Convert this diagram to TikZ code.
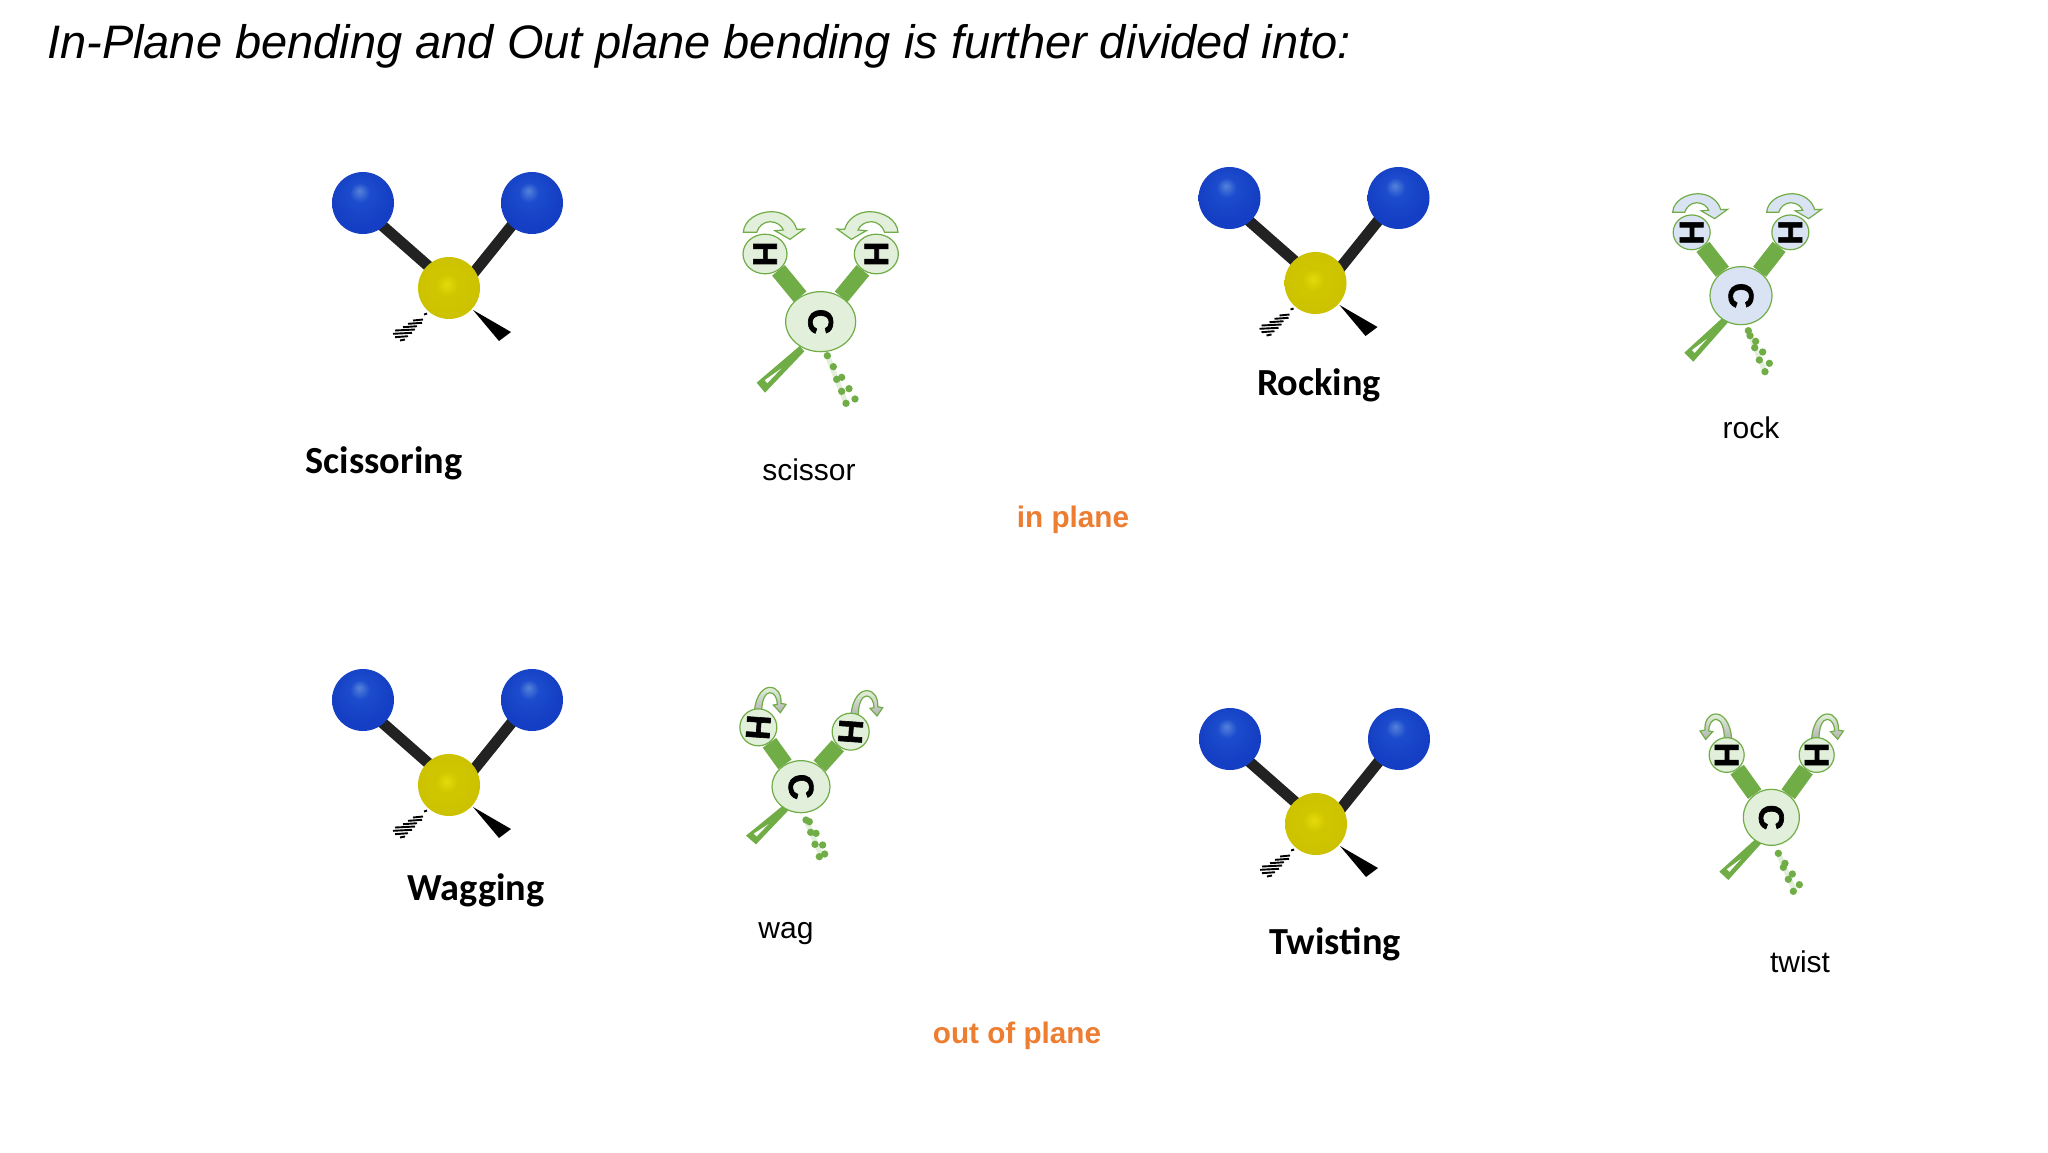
\documentclass[tikz,border=0pt]{standalone}
\usepackage{fontspec}
\usepackage{graphicx}
\setmainfont{Liberation Sans}
\newfontfamily\calfont{Carlito}
\newfontfamily\atomfont[BoldFeatures={FakeBold=1.8}]{Liberation Sans}
\usetikzlibrary{shapes.geometric,calc,backgrounds}
\definecolor{gr}{HTML}{70AD47}
\definecolor{lgr}{HTML}{E2EFDA}
\definecolor{lbl}{HTML}{DAE3F3}
\definecolor{orng}{HTML}{ED7D31}
\definecolor{bonddark}{HTML}{222222}
\pgfdeclareradialshading{bluesph}{\pgfpoint{-3bp}{10bp}}{
 color(0bp)=(rgb,255:red,85;green,130;blue,218);
 color(8bp)=(rgb,255:red,28;green,76;blue,205);
 color(25bp)=(rgb,255:red,20;green,62;blue,195);
 color(50bp)=(rgb,255:red,20;green,62;blue,195)}
\pgfdeclareradialshading{yelsph}{\pgfpoint{-2bp}{3bp}}{
 color(0bp)=(rgb,255:red,228;green,218;blue,10);
 color(9bp)=(rgb,255:red,208;green,198;blue,0);
 color(25bp)=(rgb,255:red,204;green,194;blue,0);
 color(50bp)=(rgb,255:red,204;green,194;blue,0)}
\tikzset{
 x=1pt,y=-1pt,
 bluea/.style={circle,minimum size=62pt,inner sep=0pt,shading=bluesph},
 yela/.style={circle,minimum size=62pt,inner sep=0pt,shading=yelsph},
 blackbond/.style={draw=bonddark,line width=11pt},
 greenbond/.style={draw=gr,line width=16.5pt},
 atomc/.style={ellipse,draw=gr,line width=1.2pt,inner sep=0pt,font=\atomfont\bfseries\fontsize{35}{35}\selectfont},
 atomh/.style={ellipse,draw=gr,line width=1.2pt,inner sep=0pt,font=\atomfont\bfseries\fontsize{34}{34}\selectfont},
 curl/.style={draw=gr,line width=1.2pt,line join=miter},
 titletxt/.style={font=\itshape\fontsize{47}{50}\selectfont,anchor=west,inner sep=0pt},
 namelbl/.style={font=\calfont\bfseries\fontsize{38.3}{42}\selectfont,inner sep=0pt},
 smalllbl/.style={font=\fontsize{30}{33}\selectfont,inner sep=0pt},
 planelbl/.style={font=\bfseries\fontsize{29.7}{32}\selectfont,text=orng,inner sep=0pt},
}
\newcommand{\ballmol}[3]{
 \begin{scope}[shift={(#2,#3)}]
  \node[yela] (#1y) at (0,0) {};
  \node[bluea] (#1l) at (-86,-85) {};
  \node[bluea] (#1r) at (83,-85) {};
  \begin{scope}[on background layer]
   \draw[blackbond] ($(#1y)+(-18,-19.5)$) -- ($(#1l)+(18,21.5)$);
   \draw[blackbond] ($(#1y)+(23,-13)$) -- ($(#1r)+(-19,21)$);
  \end{scope}
  \fill[black] (24,22) -- (62,44) -- (50,53) -- cycle;
  \foreach \xa/\xb/\ya in {-25/-22/26,-36/-26/32,-41/-27/35.3,-46/-32/38.7,-54/-34/42,-56/-37/45.3,-54/-41/48.7,-49/-44/52}{
   \draw[black,line width=1.9pt] (\xa,\ya+0.5) -- (\xb,\ya-0.5);
  }
 \end{scope}
}
\newcommand{\hrot}{-90}
\newcommand{\crot}{-90}
\newcommand{\greenatoms}[9]{
 \node[atomc,fill=#3,minimum width=#5pt,minimum height=#6pt] (#1c) at #4 {\rotatebox{\crot}{C}};
 \node[atomh,fill=#3,minimum width=#9pt,minimum height=#9pt*0.9] (#1a) at #7 {\rotatebox{\hrot}{H}};
 \node[atomh,fill=#3,minimum width=#9pt,minimum height=#9pt*0.9] (#1b) at #8 {\rotatebox{\hrot}{H}};
 \begin{scope}[on background layer]
  \draw[greenbond] (#1c) -- (#1a);
  \draw[greenbond] (#1c) -- (#1b);
 \end{scope}
}
\newcommand{\gwedge}[3]{
 \fill[gr] ($#1+(-6,-10)$) -- ($#1+(8,6)$) -- #3 -- #2 -- cycle;
 \fill[white] ($#2!.5!#3!.5!#1$) -- ($#2!.25!#3!.14!#1$) -- ($#2!.6!#3!.14!#1$) -- cycle;
}
\newcommand{\gdots}[2]{
 \draw[lgr,line width=5pt] #1;
 \foreach \dx/\dy in {#2}{\fill[gr] (\dx,\dy) circle[radius=11];}
}
\newcommand{\broadcurl}[4]{
 \begin{scope}[shift={#1},xscale=#2*#3,yscale=#3]
  \draw[curl,fill=#4] (0,0) .. controls (2,-38) and (45,-62) .. (85,-62)
   .. controls (120,-62) and (152,-40) .. (160,-9) -- (183,-10) -- (140,21) -- (95,-5) -- (120,-7)
   .. controls (115,-20) and (100,-32) .. (80,-32) .. controls (62,-32) and (45,-18) .. (40,0) -- cycle;
 \end{scope}
}
\newcommand{\thincurl}[2]{
 \begin{scope}[shift={#1},xscale=#2]
  \draw[curl,top color=lgr,bottom color=black!30] (0,0) .. controls (5,-55) and (30,-73) .. (47,-73)
   .. controls (70,-73) and (82,-50) .. (80,-25) -- (95,-22) -- (78,3) -- (57,-20) -- (69,-22)
   .. controls (69,-40) and (60,-57) .. (47,-57) .. controls (33,-57) and (22,-35) .. (22,0) -- cycle;
 \end{scope}
}
\begin{document}
\begin{tikzpicture}
\useasboundingbox (0,0) rectangle (2048,1152);
\begin{scope}[on background layer]
 \fill[white] (0,0) rectangle (2048,1152);
\end{scope}

\node[titletxt] (title) at (47,46) {In-Plane bending and Out plane bending is further divided into:};

\ballmol{sc}{449}{288}
\ballmol{ro}{1315.5}{283}
\ballmol{wa}{449}{785}
\ballmol{tw}{1316}{824}

\begin{scope}[shift={(720,190)},scale=1/3]
 \gdots{(322,497) -- (378,640)}{322/497,340/530,350/568,365/562,365/604,387/596,378/640,405/627}
 \gwedge{(245,478)}{(110,578)}{(135,608)}
 \broadcurl{(70,127)}{1}{1}{lgr}
 \broadcurl{(534,127)}{-1}{1}{lgr}
 \greenatoms{s}{}{lgr}{(302,395)}{70}{60}{(135,192)}{(469,192)}{44}
\end{scope}
\begin{scope}[shift={(1650,170)},scale=1/3]
 \gdots{(295,482) -- (345,605)}{295/482,300/497,317/514,314/533,338/546,328/570,358/580,345/605}
 \gwedge{(225,452)}{(103,548)}{(130,575)}
 \broadcurl{(68,127)}{1}{0.9}{lbl}
 \broadcurl{(350,127)}{1}{0.9}{lbl}
 \greenatoms{k}{}{lbl}{(273,377)}{62}{58}{(125,187)}{(421,187)}{37}
\end{scope}
\begin{scope}[shift={(720,670)},scale=1/3]
 \renewcommand{\hrot}{-94}
 \renewcommand{\crot}{-84}
 \gdots{(258,450) -- (305,560)}{258/450,268/455,272/487,288/490,285/523,308/525,298/560,314/552}
 \gwedge{(197,415)}{(78,497)}{(108,523)}
 \thincurl{(103,125)}{1}
 \thincurl{(393,135)}{1}
 \greenatoms{w}{}{lgr}{(243,350)}{58}{52}{(115,172)}{(392,185)}{37}
\end{scope}
\begin{scope}[shift={(1680,690)},scale=1/3]
 \gdots{(295,490) -- (345,604)}{295/490,315/520,310/532,337/552,325/568,358/584,340/604}
 \gwedge{(235,455)}{(118,545)}{(145,570)}
 \thincurl{(155,145)}{-1}
 \thincurl{(395,145)}{1}
 \greenatoms{t}{}{lgr}{(274,382)}{56}{56}{(140,195)}{(410,195)}{35}
\end{scope}

\node[namelbl] (n1) at (384,463) {Scissoring};
\node[namelbl] (n2) at (1319,385) {Rocking};
\node[namelbl] (n3) at (476,890) {Wagging};
\node[namelbl] (n4) at (1335,944) {Twisting};
\node[smalllbl] (l1) at (809,470) {scissor};
\node[smalllbl] (l2) at (1751,428) {rock};
\node[smalllbl] (l3) at (786,934) {wag};
\node[smalllbl] (l4) at (1800,962) {twist};
\node[planelbl] (p1) at (1073,520) {in plane};
\node[planelbl] (p2) at (1017,1036) {out of plane};
\end{tikzpicture}
\end{document}
